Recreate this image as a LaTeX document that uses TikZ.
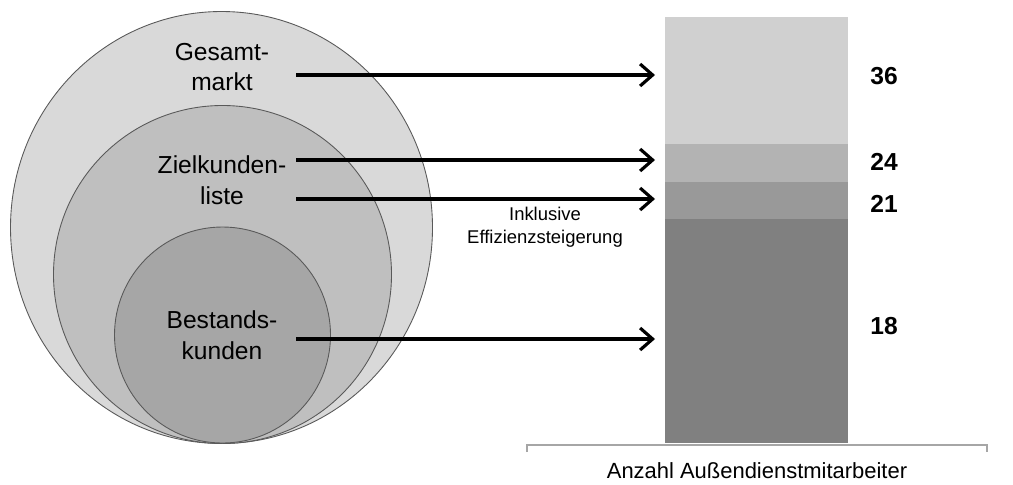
\documentclass[tikz,border=0pt]{standalone}
\usepackage{fontspec}
\setmainfont{Liberation Sans}
\usepackage{xcolor}
\usetikzlibrary{arrows.meta}

\definecolor{ringOuter}{HTML}{D9D9D9}
\definecolor{ringMid}{HTML}{BFBFBF}
\definecolor{ringInner}{HTML}{A6A6A6}
\definecolor{barTop}{HTML}{D0D0D0}
\definecolor{barSecond}{HTML}{B3B3B3}
\definecolor{barThird}{HTML}{999999}
\definecolor{barBase}{HTML}{808080}

\begin{document}
\begin{tikzpicture}[
  x=0.02cm, y=-0.02cm,
  ring/.style={draw=black!65, line width=0.5pt},
  ringText/.style={align=center, font=\fontsize{14}{17.6}\selectfont},
  barValue/.style={font=\fontsize{14}{17}\selectfont\bfseries},
  noteText/.style={align=center, font=\fontsize{10.5}{13}\selectfont},
  axisText/.style={font=\fontsize{12.5}{15}\selectfont},
  arrow/.style={-{Straight Barb[length=2.5mm, width=4.4mm]}, line width=1.8pt},
  axis/.style={draw=gray!70, line width=0.6pt}
]
  \path[use as bounding box] (0,0) rectangle (1013,484);

  \draw[ring, fill=ringOuter] (221.5,227.5) ellipse [x radius=211, y radius=216];
  \draw[ring, fill=ringMid] (222.5,274.5) circle [radius=169];
  \draw[ring, fill=ringInner] (222.5,335) circle [radius=108];

  \node[ringText] (gesamt) at (222,67) {Gesamt-\\markt};
  \node[ringText] (ziel) at (222,180) {Zielkunden-\\liste};
  \node[ringText] (bestand) at (222,335) {Bestands-\\kunden};

  \fill[barTop] (665,17) rectangle (848,144);
  \fill[barSecond] (665,144) rectangle (848,182);
  \fill[barThird] (665,182) rectangle (848,219);
  \fill[barBase] (665,219) rectangle (848,443);

  \foreach \y [count=\i] in {75,160,199,339} {
    \coordinate (from\i) at (296,\y);
    \coordinate (to\i) at (655,\y);
    \draw[arrow] (from\i) -- (to\i);
  }

  \node[barValue] (v36) at (884,76) {36};
  \node[barValue] (v24) at (884,162) {24};
  \node[barValue] (v21) at (884,204) {21};
  \node[barValue] (v18) at (884,326) {18};

  \node[noteText] (effizienz) at (545,227) {Inklusive\\Effizienzsteigerung};

  \draw[axis] (527,452) -- (527,445) -- (987,445) -- (987,452);
  \node[axisText] (anzahl) at (757,471) {Anzahl Außendienstmitarbeiter};
\end{tikzpicture}
\end{document}
